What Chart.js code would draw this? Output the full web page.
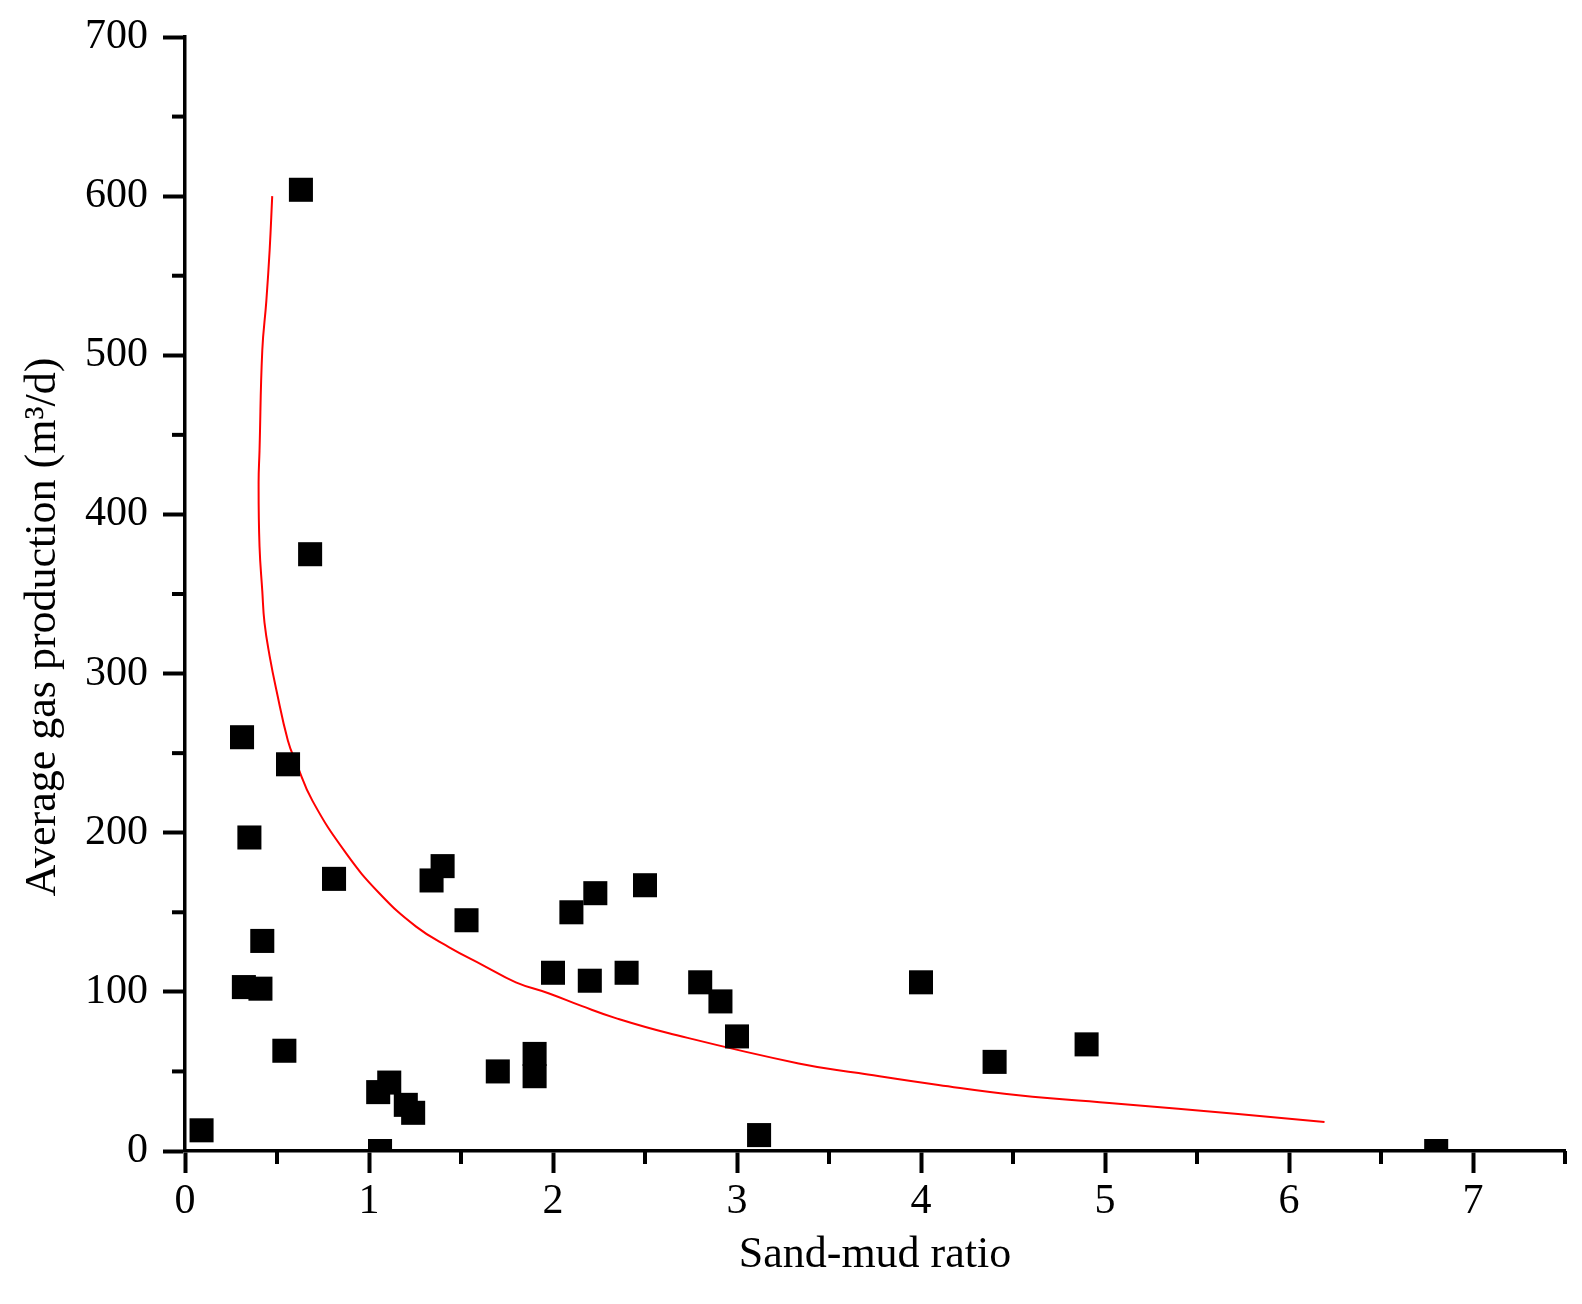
<!DOCTYPE html>
<html>
<head>
<meta charset="utf-8">
<script src="https://cdn.jsdelivr.net/npm/chart.js@4/dist/chart.umd.min.js"></script>
<style>
  html, body { margin: 0; padding: 0; background: #fff; }
  canvas { display: block; }
</style>
</head>
<body>
<canvas id="chart" width="1582" height="1304"></canvas>
<script>
// measured wells
const sandMudRatio = [0.09, 0.31, 0.32, 0.35, 0.41, 0.42, 0.54, 0.56, 0.63, 0.68, 0.81,
    1.05, 1.06, 1.11, 1.20, 1.24, 1.34, 1.40, 1.53, 1.70, 1.90, 1.90, 2.00, 2.10, 2.20,
    2.23, 2.40, 2.50, 2.80, 2.91, 3.00, 3.12, 4.00, 4.40, 4.90, 6.80];
const gasProduction = [13, 260, 103, 197, 102, 132, 63, 243, 604, 375, 171,
    37, 0, 43, 29, 24, 170, 179, 145, 50, 61, 47, 112, 150, 107,
    162, 112, 167, 106, 94, 72, 10, 106, 56, 67, 0];

// fitted curve
const fitX = [0.474, 0.460, 0.442, 0.420, 0.405, 0.400, 0.405, 0.420, 0.432, 0.460, 0.496,
    0.559, 0.604, 0.693, 0.876, 1.056, 1.256, 1.436, 1.615, 1.798, 1.979, 2.158, 2.341,
    2.630, 3.335, 3.661, 4.095, 4.529, 5.072, 5.723, 6.193];
const fitY = [600, 566, 534, 503, 440, 420, 380, 352, 332, 311, 290,
    258, 244, 220, 187, 162, 141, 128, 117, 106, 99, 91, 83.5,
    74, 55, 49, 41.5, 35, 29.7, 23.2, 18.2];

const xTicks = [0, 1, 2, 3, 4, 5, 6, 7];
const yTicks = [0, 100, 200, 300, 400, 500, 600, 700];

const serif = 'Liberation Serif';

// minor ticks halfway between the major ones
const minorTicks = {
    id: 'minorTicks',
    afterDraw(chart) {
        const ctx = chart.ctx;
        const xs = chart.scales.x, ys = chart.scales.y;
        ctx.save();
        ctx.strokeStyle = '#000';
        ctx.lineWidth = 4;
        for (let v = 0.5; v <= 7.5; v += 1) {
            const px = xs.getPixelForValue(v);
            ctx.beginPath();
            ctx.moveTo(px, ys.bottom);
            ctx.lineTo(px, ys.bottom + 13);
            ctx.stroke();
        }
        for (let v = 50; v < 700; v += 100) {
            const py = ys.getPixelForValue(v);
            ctx.beginPath();
            ctx.moveTo(xs.left, py);
            ctx.lineTo(xs.left - 13, py);
            ctx.stroke();
        }
        ctx.restore();
    }
};

new Chart(document.getElementById('chart'), {
    type: 'scatter',
    data: {
        datasets: [
            {
                label: 'measured',
                data: sandMudRatio.map((x, i) => ({x: x, y: gasProduction[i]})),
                pointStyle: 'rect',
                pointRadius: 17,
                backgroundColor: '#000',
                borderColor: '#000',
                borderWidth: 0
            }, {
                label: 'fit',
                data: fitX.map((x, i) => ({x: x, y: fitY[i]})),
                showLine: true,
                pointRadius: 0,
                borderColor: '#ff0000',
                borderWidth: 2,
                tension: 0.45,
                fill: false
            }
        ]
    },
    options: {
        responsive: false,
        animation: false,
        devicePixelRatio: 1,
        layout: { padding: { top: 37, right: 13, left: 0, bottom: 0 } },
        plugins: { legend: { display: false }, tooltip: { enabled: false } },
        scales: {
            x: {
                type: 'linear',
                min: 0,
                max: 7.5,
                afterBuildTicks: s => { s.ticks = xTicks.map(v => ({value: v})); },
                afterFit: s => { s.height = 153; s.paddingLeft = 0; s.paddingRight = 0; },
                border: { display: true, color: '#000', width: 3.5 },
                grid: { display: true, drawOnChartArea: false, drawTicks: true,
                        tickLength: 22, tickWidth: 4, tickColor: '#000', color: '#000' },
                ticks: { color: '#000', padding: 4, maxRotation: 0,
                         font: { family: serif, size: 42 } },
                title: { display: true, text: 'Sand-mud ratio', color: '#000',
                         padding: { top: 0, bottom: 22 },
                         font: { family: serif, size: 44 } }
            },
            y: {
                type: 'linear',
                min: 0,
                max: 700,
                afterBuildTicks: s => { s.ticks = yTicks.map(v => ({value: v})); },
                afterFit: s => { s.width = 185; s.paddingTop = 0; s.paddingBottom = 0; },
                border: { display: true, color: '#000', width: 3.5 },
                grid: { display: true, drawOnChartArea: false, drawTicks: true,
                        tickLength: 22, tickWidth: 4, tickColor: '#000', color: '#000' },
                ticks: { color: '#000', padding: 15,
                         font: { family: serif, size: 42 } },
                title: { display: true, text: 'Average gas production (m\u00B3/d)      ', color: '#000',
                         padding: { top: 17, bottom: 0 },
                         font: { family: serif, size: 44 } }
            }
        }
    },
    plugins: [minorTicks]
});
</script>
</body>
</html>
